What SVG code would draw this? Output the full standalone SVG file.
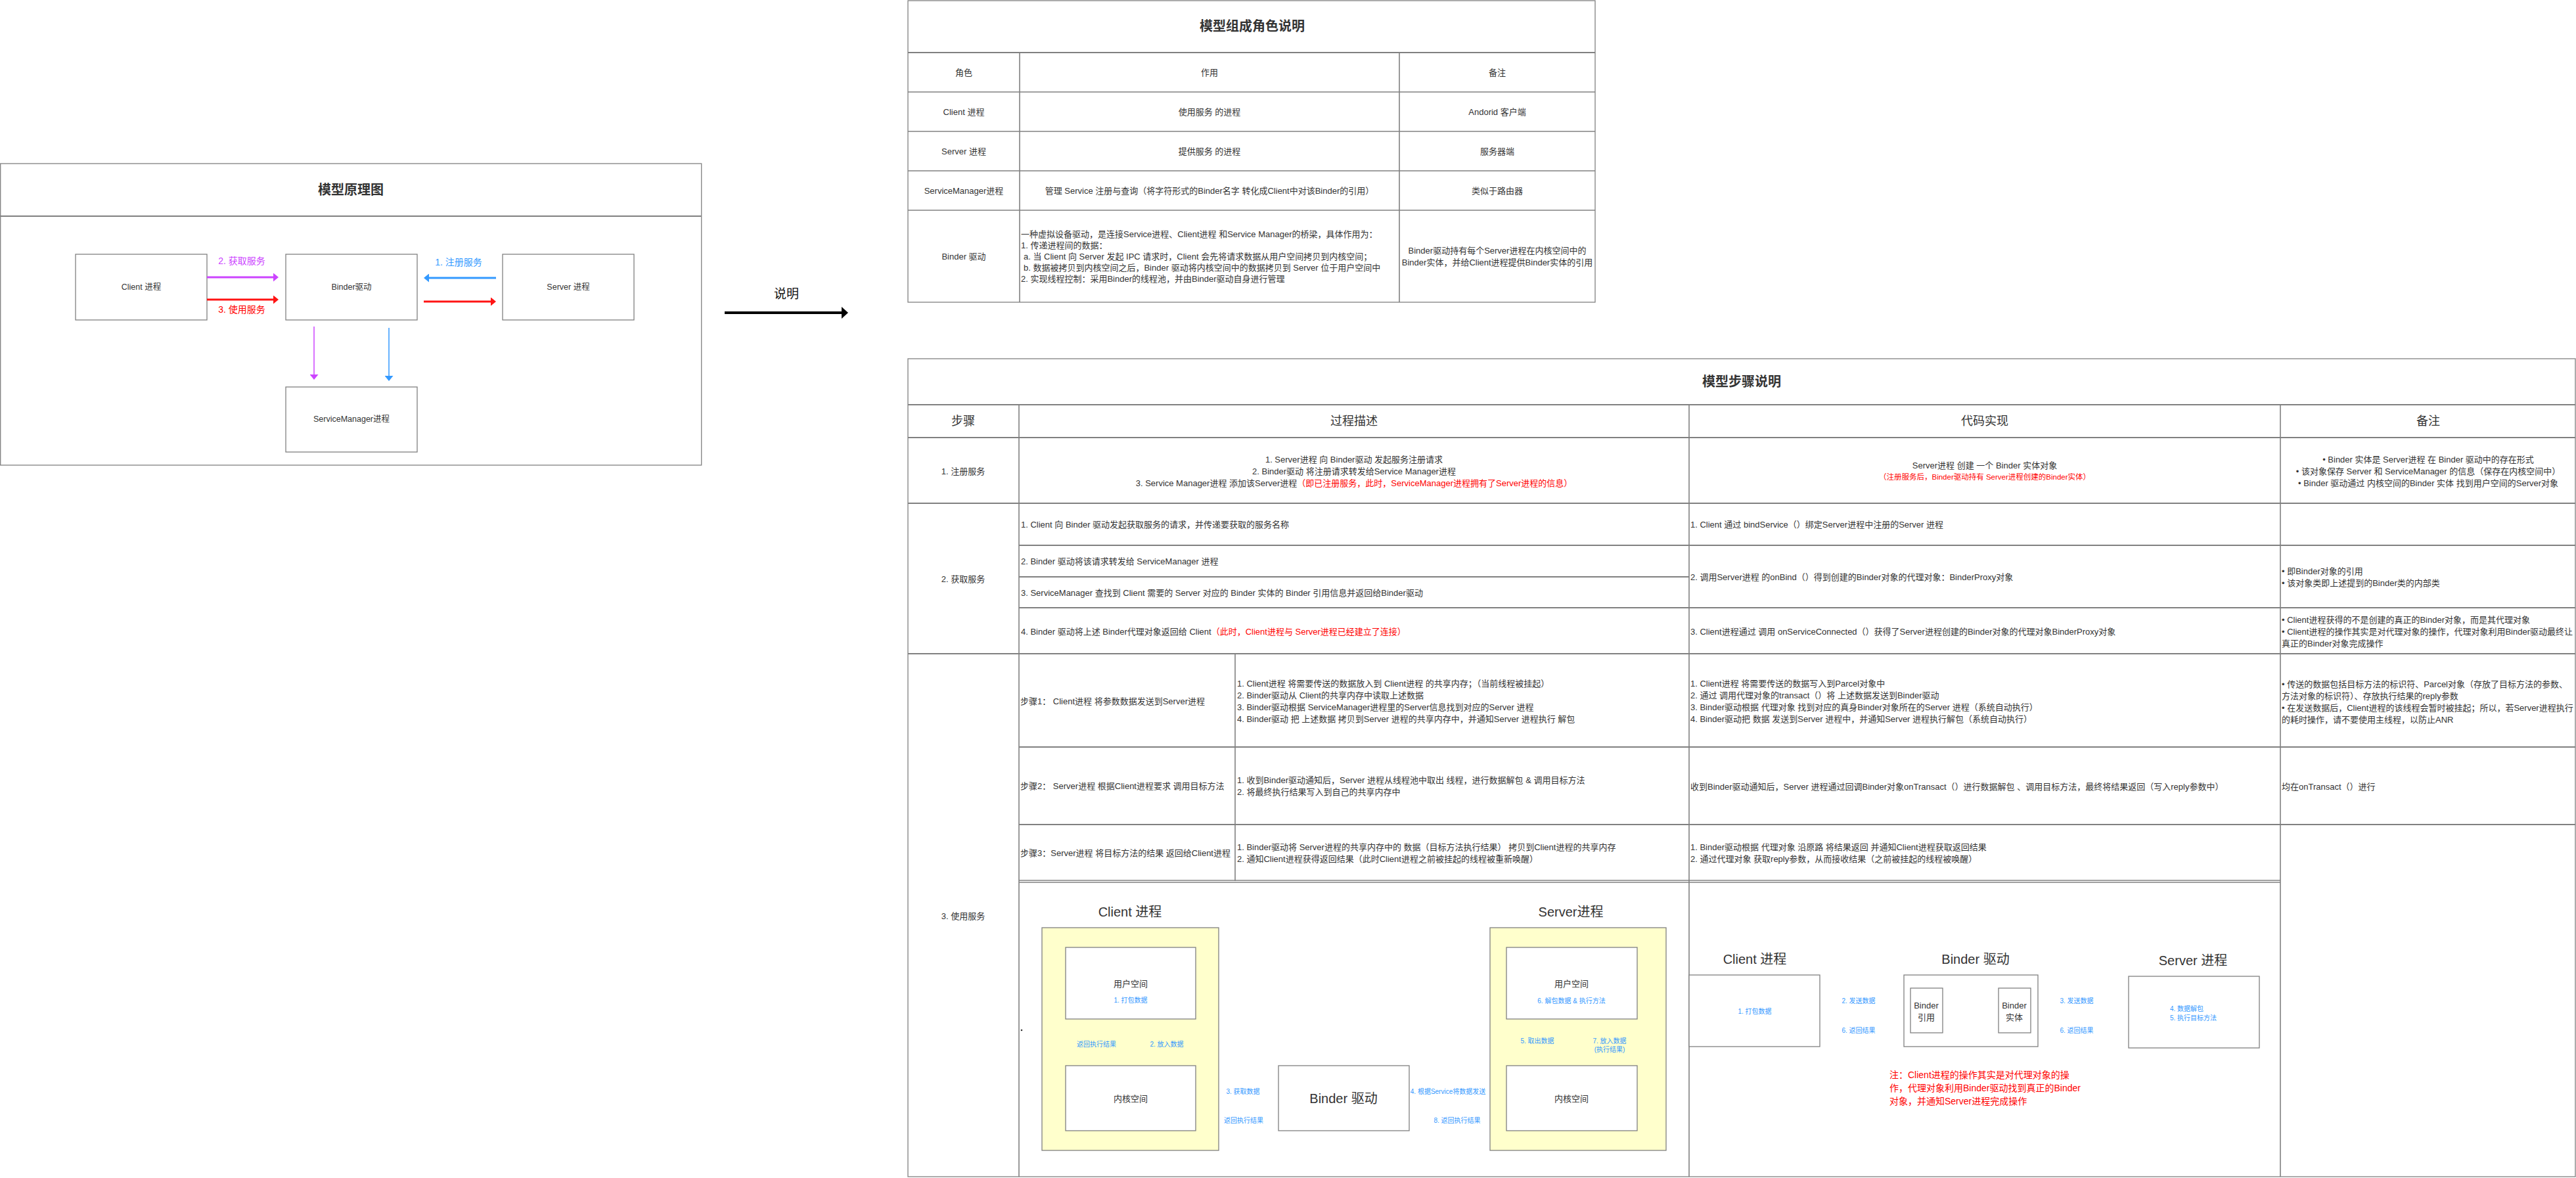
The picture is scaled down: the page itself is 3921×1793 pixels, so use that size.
<svg xmlns="http://www.w3.org/2000/svg" width="3921" height="1793" viewBox="0 0 3921 1793">
<style>
.t{font-family:"Liberation Sans","Noto Sans CJK SC",sans-serif;fill:#333;dominant-baseline:central;font-size:13px}
.c{text-anchor:middle}
.b{font-weight:bold}
.f10{font-size:10px}.f11{font-size:11.5px}.f12{font-size:12.5px}.f14{font-size:14px}.f18{font-size:18px}.f19{font-size:19px}.f20{font-size:20px}
.red{fill:#FF0000}.blue{fill:#3399FF}.pur{fill:#CC44FF}
.box{fill:#fff;stroke:#808080;stroke-width:1.3}
.yel{fill:#FFFFCC;stroke:#808080;stroke-width:1.3}
.ln{stroke:#808080;stroke-width:1.6;fill:none}
.lnt{stroke:#808080;stroke-width:2.2;fill:none}
.frame{fill:#fff;stroke:#808080;stroke-width:1.3}
.ab{stroke:#3399FF;fill:none}
.ap{stroke:#CC44FF;fill:none}
.ar{stroke:#FF1414;fill:none}
.ak{stroke:#000;fill:none}
</style>
<defs>
<marker id="hb" markerUnits="userSpaceOnUse" markerWidth="8" markerHeight="13" refX="4" refY="6.5" orient="auto"><path d="M0,0 L8,6.5 L0,13 Z" fill="#3399FF"/></marker>
<marker id="hp" markerUnits="userSpaceOnUse" markerWidth="8" markerHeight="13" refX="4" refY="6.5" orient="auto"><path d="M0,0 L8,6.5 L0,13 Z" fill="#CC44FF"/></marker>
<marker id="hr" markerUnits="userSpaceOnUse" markerWidth="8" markerHeight="13" refX="4" refY="6.5" orient="auto"><path d="M0,0 L8,6.5 L0,13 Z" fill="#FF1414"/></marker>
<marker id="hk" markerUnits="userSpaceOnUse" markerWidth="10" markerHeight="18" refX="5" refY="9" orient="auto"><path d="M0,0 L10,9 L0,18 Z" fill="#000"/></marker>
</defs>
<rect width="3921" height="1793" fill="#fff"/>

<!-- Left: 模型原理图 -->
<g id="principle-frame">
<rect class="frame" x="0.7" y="249" width="1067" height="459"/>
<line class="lnt" x1="0.7" y1="329" x2="1067.7" y2="329"/>
<text class="t c b f20" x="534" y="289">模型原理图</text>
</g>
<g id="client-node"><rect class="box" x="115" y="387" width="200" height="100"/><text class="t c f12" x="215" y="437">Client 进程</text></g>
<g id="binder-node"><rect class="box" x="435" y="387" width="200" height="100"/><text class="t c f12" x="535" y="437">Binder驱动</text></g>
<g id="server-node"><rect class="box" x="765" y="387" width="200" height="100"/><text class="t c f12" x="865" y="437">Server 进程</text></g>
<g id="sm-node"><rect class="box" x="435" y="589" width="200" height="99"/><text class="t c f12" x="535" y="638">ServiceManager进程</text></g>

<!-- connectors -->
<g id="connectors">
<line class="ap" stroke-width="3" x1="315" y1="422" x2="420" y2="422" marker-end="url(#hp)"/>
<line class="ar" stroke-width="3" x1="315" y1="456" x2="420" y2="456" marker-end="url(#hr)"/>
<line class="ab" stroke-width="3" x1="755" y1="423" x2="649" y2="423" marker-end="url(#hb)"/>
<line class="ar" stroke-width="3" x1="645" y1="459" x2="751" y2="459" marker-end="url(#hr)"/>
<line class="ap" stroke-width="1.5" x1="478" y1="497" x2="478" y2="574" marker-end="url(#hp)"/>
<line class="ab" stroke-width="1.5" x1="592" y1="499" x2="592" y2="576" marker-end="url(#hb)"/>
<line class="ak" stroke-width="4" x1="1103" y1="476" x2="1286" y2="476" marker-end="url(#hk)"/>
<!-- bottom diagram 1 -->
<line class="ab" stroke-width="2" x1="1715" y1="1624" x2="1715" y2="1557" marker-end="url(#hb)"/>
<line class="ab" stroke-width="2" x1="1735" y1="1553" x2="1735" y2="1618" marker-end="url(#hb)"/>
<line class="ab" stroke-width="2" x1="2381" y1="1624" x2="2381" y2="1557" marker-end="url(#hb)"/>
<line class="ab" stroke-width="2" x1="2402" y1="1553" x2="2402" y2="1618" marker-end="url(#hb)"/>
<line class="ab" stroke-width="3" x1="1820" y1="1673" x2="1942" y2="1673" marker-end="url(#hb)"/>
<line class="ab" stroke-width="3" x1="1946" y1="1693" x2="1824" y2="1693" marker-end="url(#hb)"/>
<line class="ab" stroke-width="3" x1="2145" y1="1673" x2="2289" y2="1673" marker-end="url(#hb)"/>
<line class="ab" stroke-width="3" x1="2293" y1="1693" x2="2149" y2="1693" marker-end="url(#hb)"/>
<!-- bottom diagram 2 -->
<line class="ab" stroke-width="3" x1="2781" y1="1535" x2="2883" y2="1535" marker-end="url(#hb)"/>
<line class="ab" stroke-width="3" x1="2887" y1="1555" x2="2785" y2="1555" marker-end="url(#hb)"/>
<line class="ab" stroke-width="3" x1="2968" y1="1535" x2="3021" y2="1535" marker-end="url(#hb)"/>
<line class="ab" stroke-width="3" x1="3025" y1="1555" x2="2972" y2="1555" marker-end="url(#hb)"/>
<line class="ab" stroke-width="3" x1="3113" y1="1535" x2="3214" y2="1535" marker-end="url(#hb)"/>
<line class="ab" stroke-width="3" x1="3218" y1="1555" x2="3117" y2="1555" marker-end="url(#hb)"/>
</g>

<g id="edge-labels">
<text class="t c f14 pur" x="368" y="397">2. 获取服务</text>
<text class="t c f14 red" x="368" y="471">3. 使用服务</text>
<text class="t c f14 blue" x="698" y="399">1. 注册服务</text>
<text class="t c f19" x="1197" y="447" fill="#000" style="fill:#111">说明</text>
</g>

<!-- Top table: 模型组成角色说明 -->
<g id="roles-table">
<rect class="frame" x="1382" y="1" width="1046" height="459"/>
<line class="lnt" x1="1382" y1="80" x2="2428" y2="80"/>
<line class="ln" x1="1382" y1="140" x2="2428" y2="140"/>
<line class="ln" x1="1382" y1="200" x2="2428" y2="200"/>
<line class="ln" x1="1382" y1="260" x2="2428" y2="260"/>
<line class="ln" x1="1382" y1="320" x2="2428" y2="320"/>
<line class="ln" x1="1552" y1="80" x2="1552" y2="460"/>
<line class="ln" x1="2130" y1="80" x2="2130" y2="460"/>
<text class="t c b f20" x="1906" y="40">模型组成角色说明</text>
<text class="t c" x="1467" y="110">角色</text>
<text class="t c" x="1841" y="110">作用</text>
<text class="t c" x="2279" y="110">备注</text>
<text class="t c" x="1467" y="170">Client 进程</text>
<text class="t c" x="1841" y="170">使用服务 的进程</text>
<text class="t c" x="2279" y="170">Andorid 客户端</text>
<text class="t c" x="1467" y="230">Server 进程</text>
<text class="t c" x="1841" y="230">提供服务 的进程</text>
<text class="t c" x="2279" y="230">服务器端</text>
<text class="t c" x="1467" y="290">ServiceManager进程</text>
<text class="t c" x="1841" y="290">管理 Service 注册与查询（将字符形式的Binder名字 转化成Client中对该Binder的引用）</text>
<text class="t c" x="2279" y="290">类似于路由器</text>
<text class="t c" x="1467" y="390">Binder 驱动</text>
<text class="t" x="1554" y="356">一种虚拟设备驱动，是连接Service进程、Client进程 和Service Manager的桥梁，具体作用为：</text>
<text class="t" x="1554" y="373">1. 传递进程间的数据：</text>
<text class="t" x="1558" y="390">a. 当 Client 向 Server 发起 IPC 请求时，Client 会先将请求数据从用户空间拷贝到内核空间；</text>
<text class="t" x="1558" y="407">b. 数据被拷贝到内核空间之后，Binder 驱动将内核空间中的数据拷贝到 Server 位于用户空间中</text>
<text class="t" x="1554" y="424">2. 实现线程控制：采用Binder的线程池，并由Binder驱动自身进行管理</text>
<text class="t c" x="2279" y="381">Binder驱动持有每个Server进程在内核空间中的</text>
<text class="t c" x="2279" y="399">Binder实体，并给Client进程提供Binder实体的引用</text>
</g>

<!-- Bottom table: 模型步骤说明 -->
<g id="steps-table">
<rect class="frame" x="1382" y="546" width="2538" height="1245"/>
<line class="lnt" x1="1382" y1="616" x2="3920" y2="616"/>
<line class="lnt" x1="1382" y1="666" x2="3920" y2="666"/>
<line class="lnt" x1="1382" y1="766" x2="3920" y2="766"/>
<line class="lnt" x1="1382" y1="995" x2="3920" y2="995"/>
<line class="ln" x1="1551" y1="616" x2="1551" y2="1791"/>
<line class="ln" x1="2571" y1="616" x2="2571" y2="1791"/>
<line class="ln" x1="3471" y1="616" x2="3471" y2="1791"/>
<line class="lnt" x1="1551" y1="830" x2="3920" y2="830"/>
<line class="lnt" x1="1551" y1="878" x2="2571" y2="878"/>
<line class="lnt" x1="1551" y1="925" x2="3920" y2="925"/>
<line class="ln" x1="1880" y1="995" x2="1880" y2="1341"/>
<line class="lnt" x1="1551" y1="1137" x2="3920" y2="1137"/>
<line class="lnt" x1="1551" y1="1255" x2="3920" y2="1255"/>
<line class="ln" x1="1551" y1="1340" x2="3471" y2="1340"/>
<line class="ln" x1="1551" y1="1343" x2="3471" y2="1343"/>
<text class="t c b f20" x="2651" y="581">模型步骤说明</text>
<text class="t c f18" x="1466" y="641">步骤</text>
<text class="t c f18" x="2061" y="641">过程描述</text>
<text class="t c f18" x="3021" y="641">代码实现</text>
<text class="t c f18" x="3696" y="641">备注</text>
<!-- row 1 -->
<text class="t c" x="1466" y="717">1. 注册服务</text>
<text class="t c" x="2061" y="699">1. Server进程 向 Binder驱动 发起服务注册请求</text>
<text class="t c" x="2061" y="717">2. Binder驱动 将注册请求转发给Service Manager进程</text>
<text class="t c" x="2061" y="735">3. Service Manager进程 添加该Server进程<tspan class="red">（即已注册服务，此时，ServiceManager进程拥有了Server进程的信息）</tspan></text>
<text class="t c" x="3021" y="708">Server进程 创建 一个 Binder 实体对象</text>
<text class="t c f11 red" x="3021" y="726">（注册服务后，Binder驱动持有 Server进程创建的Binder实体）</text>
<text class="t c" x="3696" y="699">• Binder 实体是 Server进程 在 Binder 驱动中的存在形式</text>
<text class="t c" x="3696" y="717">• 该对象保存 Server 和 ServiceManager 的信息（保存在内核空间中）</text>
<text class="t c" x="3696" y="735">• Binder 驱动通过 内核空间的Binder 实体 找到用户空间的Server对象</text>
<!-- row 2 -->
<text class="t c" x="1466" y="881">2. 获取服务</text>
<text class="t" x="1554" y="798">1. Client 向 Binder 驱动发起获取服务的请求，并传递要获取的服务名称</text>
<text class="t" x="1554" y="854">2. Binder 驱动将该请求转发给 ServiceManager 进程</text>
<text class="t" x="1554" y="902">3. ServiceManager 查找到 Client 需要的 Server 对应的 Binder 实体的 Binder 引用信息并返回给Binder驱动</text>
<text class="t" x="1554" y="961">4. Binder 驱动将上述 Binder代理对象返回给 Client<tspan class="red">（此时，Client进程与 Server进程已经建立了连接）</tspan></text>
<text class="t" x="2573" y="798">1. Client 通过 bindService（）绑定Server进程中注册的Server 进程</text>
<text class="t" x="2573" y="878">2. 调用Server进程 的onBind（）得到创建的Binder对象的代理对象：BinderProxy对象</text>
<text class="t" x="2573" y="961">3. Client进程通过 调用 onServiceConnected（）获得了Server进程创建的Binder对象的代理对象BinderProxy对象</text>
<text class="t" x="3473" y="869">• 即Binder对象的引用</text>
<text class="t" x="3473" y="887">• 该对象类即上述提到的Binder类的内部类</text>
<text class="t" x="3473" y="943">• Client进程获得的不是创建的真正的Binder对象，而是其代理对象</text>
<text class="t" x="3473" y="961">• Client进程的操作其实是对代理对象的操作，代理对象利用Binder驱动最终让</text>
<text class="t" x="3473" y="979">真正的Binder对象完成操作</text>
<!-- row 3 -->
<text class="t c" x="1466" y="1394">3. 使用服务</text>
<text class="t" x="1553" y="1067">步骤1：  Client进程 将参数数据发送到Server进程</text>
<text class="t" x="1883" y="1040">1. Client进程 将需要传送的数据放入到 Client进程 的共享内存；（当前线程被挂起）</text>
<text class="t" x="1883" y="1058">2. Binder驱动从 Client的共享内存中读取上述数据</text>
<text class="t" x="1883" y="1076">3.  Binder驱动根据 ServiceManager进程里的Server信息找到对应的Server 进程</text>
<text class="t" x="1883" y="1094">4.  Binder驱动 把 上述数据 拷贝到Server 进程的共享内存中，并通知Server 进程执行 解包</text>
<text class="t" x="2573" y="1040">1. Client进程 将需要传送的数据写入到Parcel对象中</text>
<text class="t" x="2573" y="1058">2. 通过 调用代理对象的transact（）将 上述数据发送到Binder驱动</text>
<text class="t" x="2573" y="1076">3. Binder驱动根据 代理对象 找到对应的真身Binder对象所在的Server 进程（系统自动执行）</text>
<text class="t" x="2573" y="1094">4. Binder驱动把 数据 发送到Server 进程中，并通知Server 进程执行解包（系统自动执行）</text>
<text class="t" x="3473" y="1041">• 传送的数据包括目标方法的标识符、Parcel对象（存放了目标方法的参数、</text>
<text class="t" x="3473" y="1059">方法对象的标识符）、存放执行结果的reply参数</text>
<text class="t" x="3473" y="1077">• 在发送数据后，Client进程的该线程会暂时被挂起；所以，若Server进程执行</text>
<text class="t" x="3473" y="1095">的耗时操作，请不要使用主线程，以防止ANR</text>
<text class="t" x="1553" y="1196">步骤2：  Server进程 根据Client进程要求 调用目标方法</text>
<text class="t" x="1883" y="1187">1. 收到Binder驱动通知后，Server 进程从线程池中取出 线程，进行数据解包 &amp; 调用目标方法</text>
<text class="t" x="1883" y="1205">2. 将最终执行结果写入到自己的共享内存中</text>
<text class="t" x="2573" y="1197">收到Binder驱动通知后，Server 进程通过回调Binder对象onTransact（）进行数据解包 、调用目标方法，最终将结果返回（写入reply参数中）</text>
<text class="t" x="3473" y="1197">均在onTransact（）进行</text>
<text class="t" x="1553" y="1298">步骤3：Server进程 将目标方法的结果 返回给Client进程</text>
<text class="t" x="1883" y="1289">1.  Binder驱动将 Server进程的共享内存中的 数据（目标方法执行结果） 拷贝到Client进程的共享内存</text>
<text class="t" x="1883" y="1307">2. 通知Client进程获得返回结果（此时Client进程之前被挂起的线程被重新唤醒）</text>
<text class="t" x="2573" y="1289">1. Binder驱动根据 代理对象 沿原路 将结果返回 并通知Client进程获取返回结果</text>
<text class="t" x="2573" y="1307">2. 通过代理对象 获取reply参数，从而接收结果（之前被挂起的线程被唤醒）</text>
<circle cx="1555" cy="1568" r="1.3" fill="#333"/>
<circle cx="2575" cy="1568" r="1.3" fill="#333"/>
</g>

<!-- Bottom diagram 1 -->
<g id="d1-client">
<text class="t c f20" x="1720" y="1388">Client 进程</text>
<rect class="yel" x="1586" y="1412" width="269" height="339"/>
</g>
<g id="d1-client-user"><rect class="box" x="1622" y="1442" width="198" height="109"/><text class="t c" x="1721" y="1497">用户空间</text><text class="t c f10 blue" x="1721" y="1522">1. 打包数据</text></g>
<g id="d1-client-kernel"><rect class="box" x="1622" y="1622" width="198" height="99"/><text class="t c" x="1721" y="1672">内核空间</text></g>
<g id="d1-binder"><rect class="box" x="1946" y="1622" width="199" height="99"/><text class="t c f20" x="2045" y="1672">Binder 驱动</text></g>
<g id="d1-server">
<text class="t c f20" x="2391" y="1388">Server进程</text>
<rect class="yel" x="2268" y="1412" width="268" height="339"/>
</g>
<g id="d1-server-user"><rect class="box" x="2293" y="1442" width="199" height="109"/><text class="t c" x="2392" y="1497">用户空间</text><text class="t c f10 blue" x="2392" y="1523">6. 解包数据 &amp; 执行方法</text></g>
<g id="d1-server-kernel"><rect class="box" x="2293" y="1622" width="199" height="99"/><text class="t c" x="2392" y="1672">内核空间</text></g>
<g id="d1-labels">
<text class="t c f10 blue" x="1669" y="1589">返回执行结果</text>
<text class="t c f10 blue" x="1776" y="1589">2. 放入数据</text>
<text class="t c f10 blue" x="1892" y="1661">3. 获取数据</text>
<text class="t c f10 blue" x="1893" y="1705">返回执行结果</text>
<text class="t c f10 blue" x="2204" y="1661">4. 根据Service将数据发送</text>
<text class="t c f10 blue" x="2218" y="1705">8. 返回执行结果</text>
<text class="t c f10 blue" x="2340" y="1584">5. 取出数据</text>
<text class="t c f10 blue" x="2450" y="1584">7. 放入数据</text>
<text class="t c f10 blue" x="2450" y="1597">(执行结果)</text>
</g>

<!-- Bottom diagram 2 -->
<g id="d2-client"><text class="t c f20" x="2671" y="1460">Client 进程</text><rect class="box" x="2571" y="1484" width="199" height="109"/><text class="t c f10 blue" x="2671" y="1539">1. 打包数据</text></g>
<g id="d2-binder"><text class="t c f20" x="3007" y="1460">Binder 驱动</text><rect class="box" x="2898" y="1484" width="204" height="109"/></g>
<g id="d2-binder-ref"><rect class="box" x="2908" y="1504" width="49" height="68"/><text class="t c" x="2932" y="1530">Binder</text><text class="t c" x="2932" y="1548">引用</text></g>
<g id="d2-binder-entity"><rect class="box" x="3042" y="1504" width="49" height="68"/><text class="t c" x="3066" y="1530">Binder</text><text class="t c" x="3066" y="1548">实体</text></g>
<g id="d2-server"><text class="t c f20" x="3338" y="1462">Server 进程</text><rect class="box" x="3240" y="1486" width="199" height="109"/><text class="t f10 blue" x="3303" y="1535">4. 数据解包</text><text class="t f10 blue" x="3303" y="1549">5. 执行目标方法</text></g>
<g id="d2-labels">
<text class="t c f10 blue" x="2829" y="1523">2. 发送数据</text>
<text class="t c f10 blue" x="2829" y="1568">6. 返回结果</text>
<text class="t c f10 blue" x="3161" y="1523">3. 发送数据</text>
<text class="t c f10 blue" x="3161" y="1568">6. 返回结果</text>
</g>
<g id="d2-note">
<text class="t f14 red" x="2876" y="1636">注：Client进程的操作其实是对代理对象的操</text>
<text class="t f14 red" x="2876" y="1656">作，代理对象利用Binder驱动找到真正的Binder</text>
<text class="t f14 red" x="2876" y="1676">对象，并通知Server进程完成操作</text>
</g>
</svg>
